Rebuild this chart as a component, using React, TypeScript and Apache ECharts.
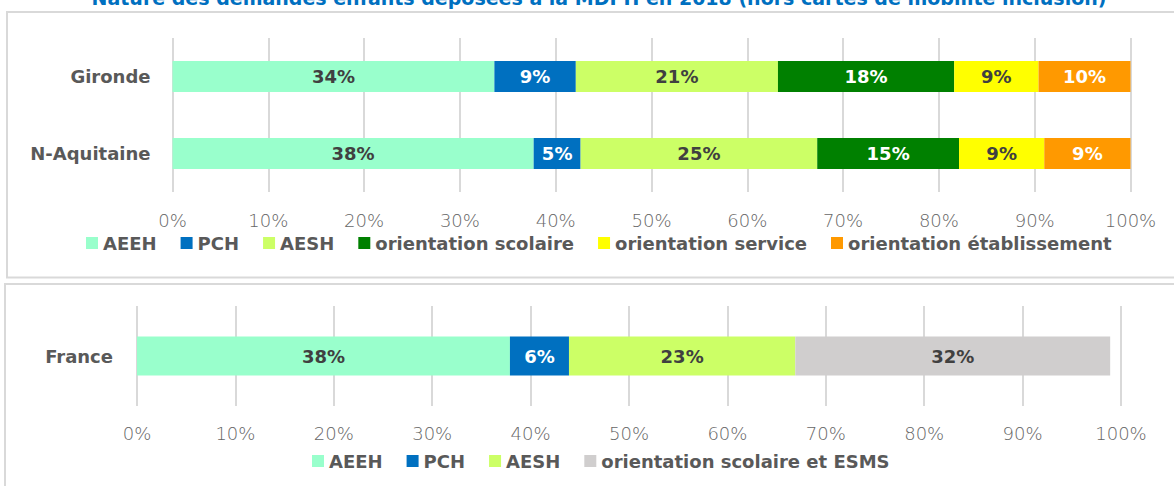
import React, { useEffect, useRef } from "react";
import * as echarts from "echarts";

const titleText =
  "Nature des demandes enfants déposées à la MDPH en 2018 (hors cartes de mobilité inclusion)";

const topCategories = ["Gironde", "N-Aquitaine"];
const bottomCategories = ["France"];

const topNames = [
  "AEEH",
  "PCH",
  "AESH",
  "orientation scolaire",
  "orientation service",
  "orientation établissement",
];
const topAEEH = [33.6, 37.7];
const topPCH = [8.5, 4.9];
const topAESH = [21.1, 24.7];
const topScolaire = [18.4, 14.8];
const topService = [8.8, 8.9];
const topEtablissement = [9.6, 9.0];

const bottomNames = ["AEEH", "PCH", "AESH", "orientation scolaire et ESMS"];
const franceAEEH = [37.9];
const francePCH = [6.0];
const franceAESH = [23.0];
const franceScolaireESMS = [32.0];

const axisMin = 0;
const axisMax = 100;
const axisInterval = 10;

const colors: Record<string, string> = {
  AEEH: "#99FFCC",
  PCH: "#0070C0",
  AESH: "#CCFF66",
  "orientation scolaire": "#008000",
  "orientation service": "#FFFF00",
  "orientation établissement": "#FF9900",
  "orientation scolaire et ESMS": "#D0CECE",
};
const labelColors: Record<string, string> = {
  AEEH: "#404040",
  PCH: "#FFFFFF",
  AESH: "#404040",
  "orientation scolaire": "#FFFFFF",
  "orientation service": "#404040",
  "orientation établissement": "#FFFFFF",
  "orientation scolaire et ESMS": "#404040",
};

const BOLD = "'DejaVu Sans', Verdana, sans-serif";

export default function App() {
  const ref = useRef<HTMLDivElement>(null);
  useEffect(() => {
    if (!ref.current) return;
    const chart = echarts.init(ref.current, undefined, { renderer: "svg" });

    const mkSeries = (
      name: string,
      data: number[],
      stack: string,
      axisIdx: number,
      barWidth: string
    ) => ({
      type: "bar",
      name,
      data,
      stack,
      xAxisIndex: axisIdx,
      yAxisIndex: axisIdx,
      barWidth,
      itemStyle: { color: colors[name] },
      label: {
        show: true,
        position: "inside",
        formatter: (p: any) => Math.round(p.value) + "%",
        color: labelColors[name],
        fontFamily: BOLD,
        fontWeight: "bold",
        fontSize: 18,
      },
    });

    const topData = [topAEEH, topPCH, topAESH, topScolaire, topService, topEtablissement];
    const bottomData = [franceAEEH, francePCH, franceAESH, franceScolaireESMS];

    const xAxisCommon = {
      type: "value",
      min: axisMin,
      max: axisMax,
      interval: axisInterval,
      axisLine: { show: false },
      axisTick: { show: false },
      splitLine: { show: true, lineStyle: { color: "#D9D9D9", width: 2 } },
      axisLabel: {
        formatter: "{value}%",
        color: "#666666",
        fontFamily: "'DejaVu Sans', sans-serif",
        fontWeight: 300,
        fontSize: 18,
      },
    };
    const yAxisCommon = {
      type: "category",
      inverse: true,
      axisLine: { show: false },
      axisTick: { show: false },
      splitLine: { show: false },
      axisLabel: {
        color: "#595959",
        fontFamily: BOLD,
        fontWeight: "bold",
        fontSize: 18,
      },
    };
    const legendCommon = {
      orient: "horizontal",
      itemWidth: 12,
      itemHeight: 12,
      itemGap: 24,
      padding: 0,
      icon: "rect",
      selectedMode: false,
      textStyle: {
        color: "#595959",
        fontFamily: BOLD,
        fontWeight: "bold",
        fontSize: 18,
      },
    };

    chart.setOption({
      animation: false,
      backgroundColor: "#FFFFFF",
      graphic: [
        {
          type: "rect",
          z: -10,
          shape: { x: 7, y: 12, width: 1180, height: 265.5 },
          style: { fill: "none", stroke: "#D9D9D9", lineWidth: 2 },
        },
        {
          type: "rect",
          z: -10,
          shape: { x: 5, y: 284, width: 1180, height: 230 },
          style: { fill: "none", stroke: "#D9D9D9", lineWidth: 2 },
        },
        {
          type: "text",
          x: 599,
          y: -2,
          style: {
            text: titleText,
            fill: "#0070C0",
            font: "bold 19px 'DejaVu Sans', sans-serif",
            textAlign: "center",
            textVerticalAlign: "middle",
          },
        },
      ],
      grid: [
        { left: 172.5, right: 43.5, top: 38, height: 154 },
        { left: 137, right: 53, top: 306, height: 100 },
      ],
      xAxis: [
        { ...xAxisCommon, gridIndex: 0, axisLabel: { ...xAxisCommon.axisLabel, margin: 19 } },
        { ...xAxisCommon, gridIndex: 1, axisLabel: { ...xAxisCommon.axisLabel, margin: 18 } },
      ],
      yAxis: [
        { ...yAxisCommon, gridIndex: 0, data: topCategories, axisLabel: { ...yAxisCommon.axisLabel, margin: 22 } },
        { ...yAxisCommon, gridIndex: 1, data: bottomCategories, axisLabel: { ...yAxisCommon.axisLabel, margin: 24 } },
      ],
      legend: [
        { ...legendCommon, data: topNames, left: 86, top: 234 },
        { ...legendCommon, data: bottomNames, left: 312, top: 452 },
      ],
      series: [
        ...topNames.map((n, i) => mkSeries(n, topData[i], "top", 0, "40%")),
        ...bottomNames.map((n, i) => mkSeries(n, bottomData[i], "bottom", 1, "39%")),
      ],
    });

    return () => chart.dispose();
  }, []);

  return (
    <div
      ref={ref}
      style={{ position: "absolute", left: 0, top: 0, width: 1174, height: 486 }}
    />
  );
}
